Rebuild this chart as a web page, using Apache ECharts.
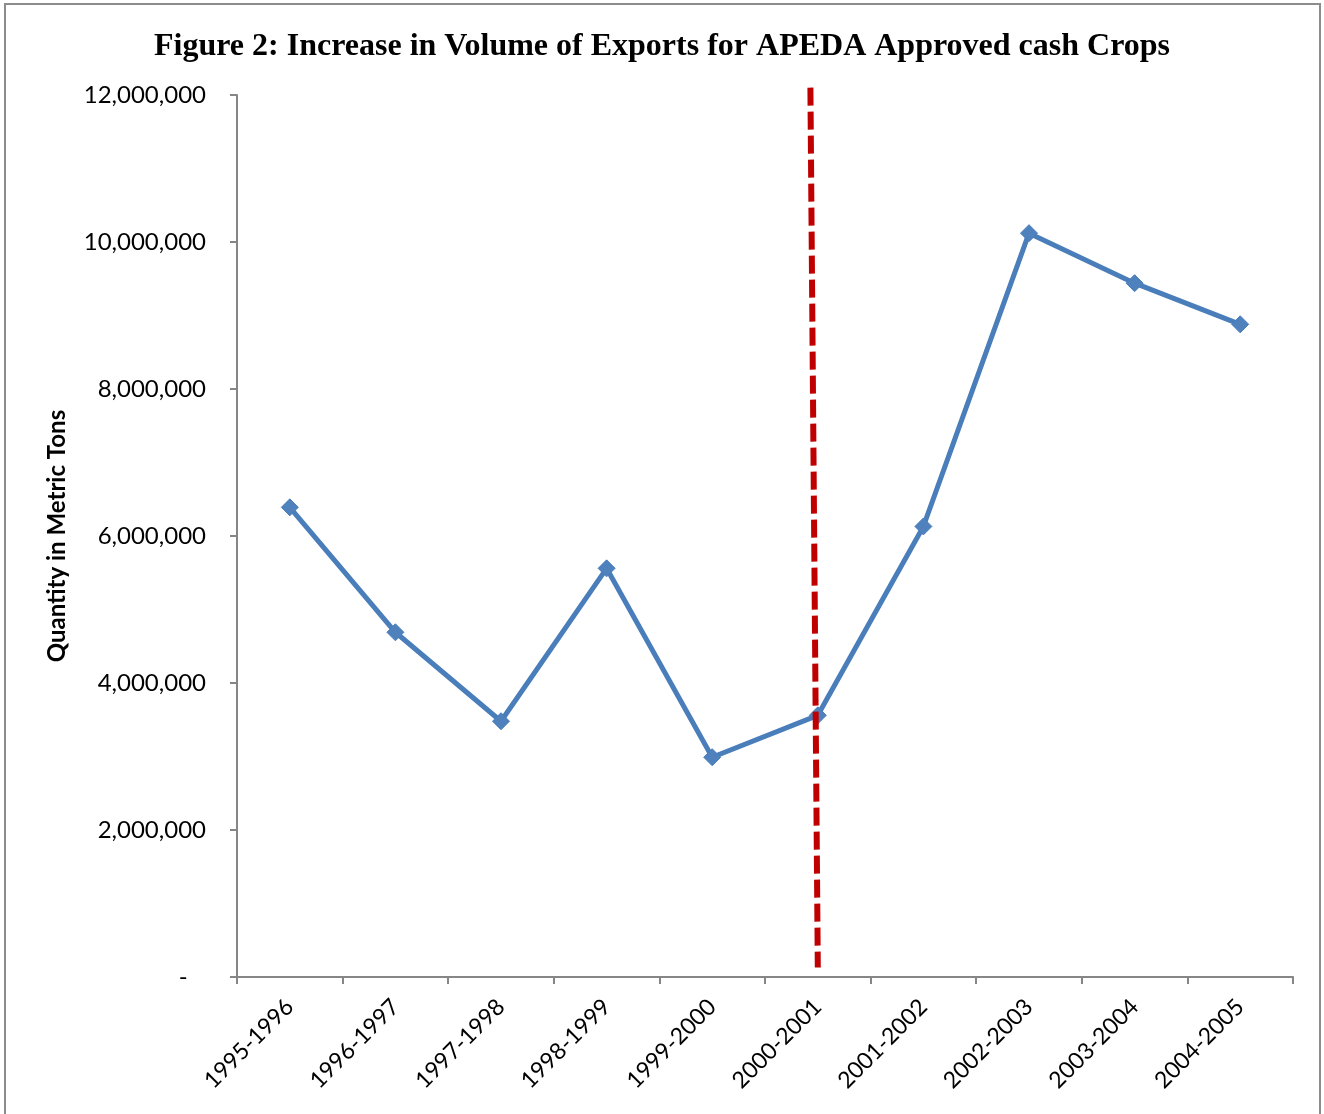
<!DOCTYPE html>
<html>
<head>
<meta charset="utf-8">
<script src="https://cdn.jsdelivr.net/npm/echarts@6/dist/echarts.min.js"></script>
<style>
  html, body { margin: 0; padding: 0; background: #fff; }
  #chart { width: 1324px; height: 1114px; }
</style>
</head>
<body>
<div id="chart"></div>
<script>
const years = ['1995-1996', '1996-1997', '1997-1998', '1998-1999', '1999-2000',
  '2000-2001', '2001-2002', '2002-2003', '2003-2004', '2004-2005'];
const exportVolume = [6390000, 4690000, 3480000, 5560000, 2990000,
  3560000, 6130000, 10120000, 9440000, 8880000];
// dashed divider near 2000-2001 (category index, value)
const dividerX = [4.93, 5.0];
const dividerY = [12100000, 130000];

const chart = echarts.init(document.getElementById('chart'));

const axisGrey = '#868686';
const labelFont = 'Lato, "Noto Sans", sans-serif';

chart.setOption({
  animation: false,
  backgroundColor: '#fff',
  title: {
    text: 'Figure 2: Increase in Volume of Exports for APEDA Approved cash Crops',
    left: 'center',
    top: 26,
    textStyle: {
      fontFamily: '"Liberation Serif", "Times New Roman", serif',
      fontWeight: 'bold',
      fontSize: 32,
      color: '#000'
    }
  },
  graphic: [{
    type: 'rect',
    shape: { x: 5, y: 4, width: 1315, height: 1130 },
    style: { fill: 'none', stroke: '#8c8c8c', lineWidth: 2 },
    silent: true
  }],
  grid: { left: 237, right: 31, top: 95, bottom: 137 },
  xAxis: [{
    type: 'category',
    data: years,
    boundaryGap: true,
    axisLine: { onZero: false, lineStyle: { color: axisGrey, width: 2 } },
    axisTick: { show: true, alignWithLabel: false, length: 7, lineStyle: { color: axisGrey, width: 2 } },
    axisLabel: {
      rotate: 45,
      margin: 26,
      fontFamily: labelFont,
      fontSize: 23,
      color: '#000'
    },
    splitLine: { show: false }
  }, {
    type: 'value',
    min: -0.5,
    max: 9.5,
    show: false
  }],
  yAxis: {
    type: 'value',
    min: 0,
    max: 12000000,
    interval: 2000000,
    name: 'Quantity in Metric Tons',
    nameLocation: 'middle',
    nameGap: 168,
    nameTextStyle: {
      fontFamily: labelFont,
      fontWeight: 'bold',
      fontSize: 24,
      color: '#000'
    },
    axisLine: { show: true, onZero: false, lineStyle: { color: axisGrey, width: 2 } },
    axisTick: { show: true, length: 7, lineStyle: { color: axisGrey, width: 2 } },
    axisLabel: {
      margin: 31,
      fontFamily: labelFont,
      fontSize: 24,
      color: '#000',
      formatter: v => v === 0 ? '-   ' : v.toLocaleString('en-US')
    },
    splitLine: { show: false }
  },
  series: [{
    type: 'line',
    data: exportVolume,
    symbol: 'diamond',
    symbolSize: 17,
    lineStyle: { color: '#4a7ebb', width: 5 },
    itemStyle: { color: '#4f81bd', borderColor: '#4a7ebb', borderWidth: 1 },
    z: 3
  }, {
    type: 'line',
    xAxisIndex: 1,
    data: dividerX.map((x, i) => [x, dividerY[i]]),
    symbol: 'none',
    clip: false,
    lineStyle: { color: '#c00000', width: 6, type: [18, 6] },
    z: 4
  }]
});
</script>
</body>
</html>
